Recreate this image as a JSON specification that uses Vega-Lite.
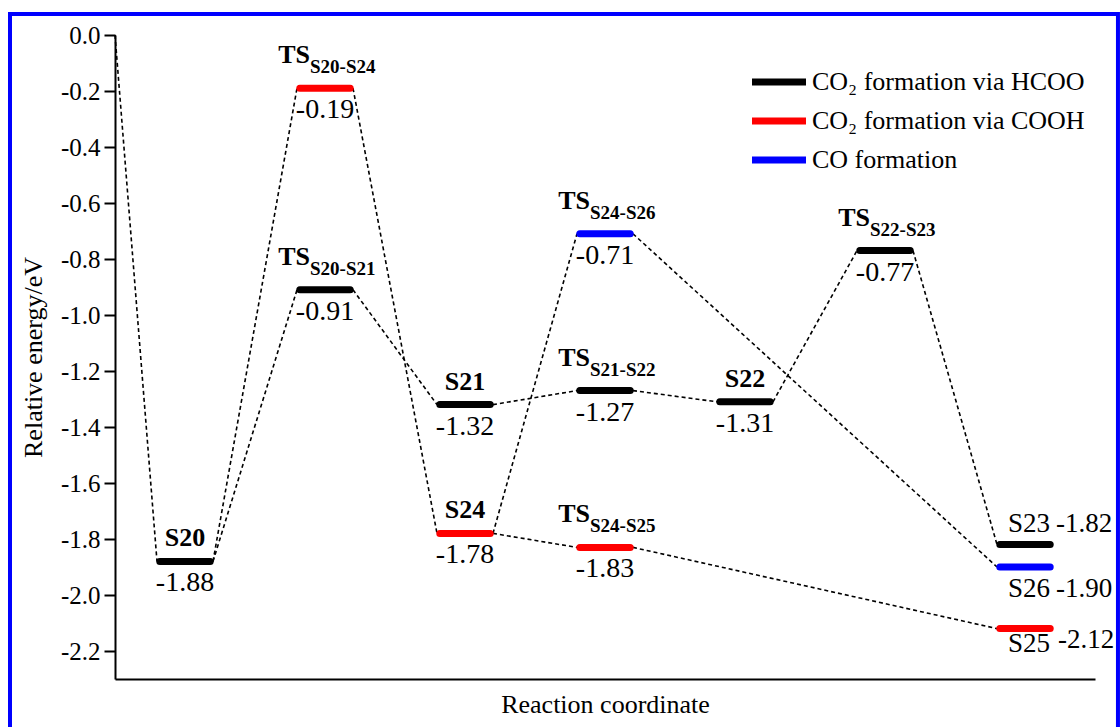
{
  "$schema": "https://vega.github.io/schema/vega-lite/v6.json",
  "width": 980,
  "height": 644,
  "autosize": "none",
  "padding": {"left": 115, "top": 35, "right": 25, "bottom": 48},
  "background": "white",
  "config": {
    "view": {"stroke": null},
    "locale": {"number": {"decimal": ".", "thousands": ",", "grouping": [3], "currency": ["$", ""], "minus": "-"}}
  },
  "datasets": {
    "levels": [
      {"name": "S20", "step": 0.5, "start": 0.32, "end": 0.68, "E": -1.88, "series": "CO₂ formation via HCOO", "kind": "int", "sub": ""},
      {"name": "TS S20-S21", "step": 1.5, "start": 1.32, "end": 1.68, "E": -0.91, "series": "CO₂ formation via HCOO", "kind": "ts", "sub": "S20-S21"},
      {"name": "TS S20-S24", "step": 1.5, "start": 1.32, "end": 1.68, "E": -0.19, "series": "CO₂ formation via COOH", "kind": "ts", "sub": "S20-S24"},
      {"name": "S21", "step": 2.5, "start": 2.32, "end": 2.68, "E": -1.32, "series": "CO₂ formation via HCOO", "kind": "int", "sub": ""},
      {"name": "S24", "step": 2.5, "start": 2.32, "end": 2.68, "E": -1.78, "series": "CO₂ formation via COOH", "kind": "int", "sub": ""},
      {"name": "TS S21-S22", "step": 3.5, "start": 3.32, "end": 3.68, "E": -1.27, "series": "CO₂ formation via HCOO", "kind": "ts", "sub": "S21-S22"},
      {"name": "TS S24-S26", "step": 3.5, "start": 3.32, "end": 3.68, "E": -0.71, "series": "CO formation", "kind": "ts", "sub": "S24-S26"},
      {"name": "TS S24-S25", "step": 3.5, "start": 3.32, "end": 3.68, "E": -1.83, "series": "CO₂ formation via COOH", "kind": "ts", "sub": "S24-S25"},
      {"name": "S22", "step": 4.5, "start": 4.32, "end": 4.68, "E": -1.31, "series": "CO₂ formation via HCOO", "kind": "int", "sub": ""},
      {"name": "TS S22-S23", "step": 5.5, "start": 5.32, "end": 5.68, "E": -0.77, "series": "CO₂ formation via HCOO", "kind": "ts", "sub": "S22-S23"},
      {"name": "S23", "step": 6.5, "start": 6.32, "end": 6.68, "E": -1.82, "series": "CO₂ formation via HCOO", "kind": "final", "sub": ""},
      {"name": "S26", "step": 6.5, "start": 6.32, "end": 6.68, "E": -1.90, "series": "CO formation", "kind": "final", "sub": ""},
      {"name": "S25", "step": 6.5, "start": 6.32, "end": 6.68, "E": -2.12, "series": "CO₂ formation via COOH", "kind": "final", "sub": ""}
    ],
    "links": [
      {"from_rc": 0.0, "from_E": 0.0, "to_rc": 0.3, "to_E": -1.88},
      {"from_rc": 0.7, "from_E": -1.88, "to_rc": 1.3, "to_E": -0.19},
      {"from_rc": 1.7, "from_E": -0.19, "to_rc": 2.3, "to_E": -1.78},
      {"from_rc": 0.7, "from_E": -1.88, "to_rc": 1.3, "to_E": -0.91},
      {"from_rc": 1.7, "from_E": -0.91, "to_rc": 2.3, "to_E": -1.32},
      {"from_rc": 2.7, "from_E": -1.32, "to_rc": 3.3, "to_E": -1.27},
      {"from_rc": 3.7, "from_E": -1.27, "to_rc": 4.3, "to_E": -1.31},
      {"from_rc": 4.7, "from_E": -1.31, "to_rc": 5.3, "to_E": -0.77},
      {"from_rc": 5.7, "from_E": -0.77, "to_rc": 6.3, "to_E": -1.82},
      {"from_rc": 2.7, "from_E": -1.78, "to_rc": 3.3, "to_E": -0.71},
      {"from_rc": 3.7, "from_E": -0.71, "to_rc": 6.3, "to_E": -1.90},
      {"from_rc": 2.7, "from_E": -1.78, "to_rc": 3.3, "to_E": -1.83},
      {"from_rc": 3.7, "from_E": -1.83, "to_rc": 6.3, "to_E": -2.12}
    ]
  },
  "layer": [
    {
      "data": {"name": "links"},
      "mark": {"type": "rule", "color": "black", "strokeWidth": 1.6, "strokeDash": [4, 3]},
      "encoding": {
        "x": {
          "field": "from_rc", "type": "quantitative",
          "scale": {"domain": [0, 7], "nice": false, "zero": false},
          "axis": {"ticks": false, "labels": false, "grid": false, "title": "Reaction coordinate", "titleFontSize": 26, "titleFontWeight": "normal", "titleFont": "serif", "titleColor": "black", "domainColor": "black", "domainWidth": 2, "titlePadding": 12}
        },
        "x2": {"field": "to_rc"},
        "y": {
          "field": "from_E", "type": "quantitative",
          "scale": {"domain": [-2.3, 0], "nice": false, "zero": false},
          "axis": {
            "values": [0, -0.1, -0.2, -0.3, -0.4, -0.5, -0.6, -0.7, -0.8, -0.9, -1.0, -1.1, -1.2, -1.3, -1.4, -1.5, -1.6, -1.7, -1.8, -1.9, -2.0, -2.1, -2.2],
            "labelExpr": "abs(round(datum.value*10)) % 2 == 1 ? '' : replace(format(datum.value, '.1f'), '\u2212', '-')",
            "tickSize": {"condition": {"test": "abs(round(datum.value*10)) % 2 == 1", "value": 6}, "value": 11},
            "labelOverlap": false,
            "grid": false,
            "tickColor": "black", "tickWidth": 2,
            "domainColor": "black", "domainWidth": 2,
            "labelFontSize": 25, "labelColor": "black", "labelFont": "serif", "labelPadding": 4,
            "title": "Relative energy/eV", "titleFontSize": 26, "titleFontWeight": "normal", "titleFont": "serif", "titleColor": "black", "titlePadding": 14
          }
        },
        "y2": {"field": "to_E"}
      }
    },
    {
      "data": {"name": "levels"},
      "mark": {"type": "rule", "strokeWidth": 7, "strokeCap": "round"},
      "encoding": {
        "x": {"field": "start", "type": "quantitative"},
        "x2": {"field": "end"},
        "y": {"field": "E", "type": "quantitative"},
        "color": {
          "field": "series", "type": "nominal",
          "scale": {"domain": ["CO₂ formation via HCOO", "CO₂ formation via COOH", "CO formation"], "range": ["#000000", "#ff0000", "#0000ff"]},
          "legend": {"orient": "none", "legendX": 633, "legendY": 34, "title": null, "symbolType": "M-1,0H5", "symbolSize": 324, "symbolStrokeWidth": 7, "labelFontSize": 26, "labelFont": "serif", "labelColor": "black", "labelOffset": 38, "rowPadding": 11, "labelLimit": 500}
        }
      }
    },
    {
      "data": {"name": "levels"},
      "transform": [{"filter": "datum.kind == 'int'"}],
      "mark": {"type": "text", "font": "Liberation Serif", "fontWeight": "bold", "fontSize": 26, "align": "center", "baseline": "alphabetic", "dy": -15, "color": "black"},
      "encoding": {
        "x": {"field": "step", "type": "quantitative"},
        "y": {"field": "E", "type": "quantitative"},
        "text": {"field": "name"}
      }
    },
    {
      "data": {"name": "levels"},
      "transform": [{"filter": "datum.kind == 'ts'"}],
      "mark": {"type": "text", "font": "Liberation Serif", "fontWeight": "bold", "fontSize": 26, "align": "right", "baseline": "alphabetic", "dx": -15, "dy": -25, "color": "black"},
      "encoding": {
        "x": {"field": "step", "type": "quantitative"},
        "y": {"field": "E", "type": "quantitative"},
        "text": {"value": "TS"}
      }
    },
    {
      "data": {"name": "levels"},
      "transform": [{"filter": "datum.kind == 'ts'"}],
      "mark": {"type": "text", "font": "Liberation Serif", "fontWeight": "bold", "fontSize": 19, "align": "left", "baseline": "alphabetic", "dx": -15, "dy": -15, "color": "black"},
      "encoding": {
        "x": {"field": "step", "type": "quantitative"},
        "y": {"field": "E", "type": "quantitative"},
        "text": {"field": "sub"}
      }
    },
    {
      "data": {"name": "levels"},
      "transform": [{"filter": "datum.kind != 'final'"}],
      "mark": {"type": "text", "font": "serif", "fontSize": 28, "align": "center", "baseline": "alphabetic", "dy": 30, "color": "black"},
      "encoding": {
        "x": {"field": "step", "type": "quantitative"},
        "y": {"field": "E", "type": "quantitative"},
        "text": {"field": "E", "type": "quantitative", "format": ".2f"}
      }
    },
    {
      "data": {"name": "levels"},
      "transform": [{"filter": "datum.name == 'S23'"}],
      "layer": [
        {"mark": {"type": "text", "font": "serif", "fontSize": 27, "align": "left", "baseline": "alphabetic", "dx": -17, "dy": -13, "color": "black"},
         "encoding": {"x": {"field": "step", "type": "quantitative"}, "y": {"field": "E", "type": "quantitative"}, "text": {"field": "name"}}},
        {"mark": {"type": "text", "font": "serif", "fontSize": 27, "align": "left", "baseline": "alphabetic", "dx": 31, "dy": -13, "color": "black"},
         "encoding": {"x": {"field": "step", "type": "quantitative"}, "y": {"field": "E", "type": "quantitative"}, "text": {"field": "E", "type": "quantitative", "format": ".2f"}}}
      ]
    },
    {
      "data": {"name": "levels"},
      "transform": [{"filter": "datum.name == 'S26'"}],
      "layer": [
        {"mark": {"type": "text", "font": "serif", "fontSize": 27, "align": "left", "baseline": "alphabetic", "dx": -17, "dy": 30, "color": "black"},
         "encoding": {"x": {"field": "step", "type": "quantitative"}, "y": {"field": "E", "type": "quantitative"}, "text": {"field": "name"}}},
        {"mark": {"type": "text", "font": "serif", "fontSize": 27, "align": "left", "baseline": "alphabetic", "dx": 31, "dy": 30, "color": "black"},
         "encoding": {"x": {"field": "step", "type": "quantitative"}, "y": {"field": "E", "type": "quantitative"}, "text": {"field": "E", "type": "quantitative", "format": ".2f"}}}
      ]
    },
    {
      "data": {"name": "levels"},
      "transform": [{"filter": "datum.name == 'S25'"}],
      "layer": [
        {"mark": {"type": "text", "font": "serif", "fontSize": 27, "align": "left", "baseline": "alphabetic", "dx": -17, "dy": 23, "color": "black"},
         "encoding": {"x": {"field": "step", "type": "quantitative"}, "y": {"field": "E", "type": "quantitative"}, "text": {"field": "name"}}},
        {"mark": {"type": "text", "font": "serif", "fontSize": 27, "align": "left", "baseline": "alphabetic", "dx": 33, "dy": 19, "color": "black"},
         "encoding": {"x": {"field": "step", "type": "quantitative"}, "y": {"field": "E", "type": "quantitative"}, "text": {"field": "E", "type": "quantitative", "format": ".2f"}}}
      ]
    },
    {
      "data": {"values": [{}]},
      "mark": {"type": "rect", "filled": false, "stroke": "#0000ff", "strokeWidth": 4},
      "encoding": {
        "x": {"datum": -0.75, "type": "quantitative"},
        "x2": {"datum": 7.164},
        "y": {"datum": 0.075, "type": "quantitative"},
        "y2": {"datum": -2.55}
      }
    }
  ]
}
